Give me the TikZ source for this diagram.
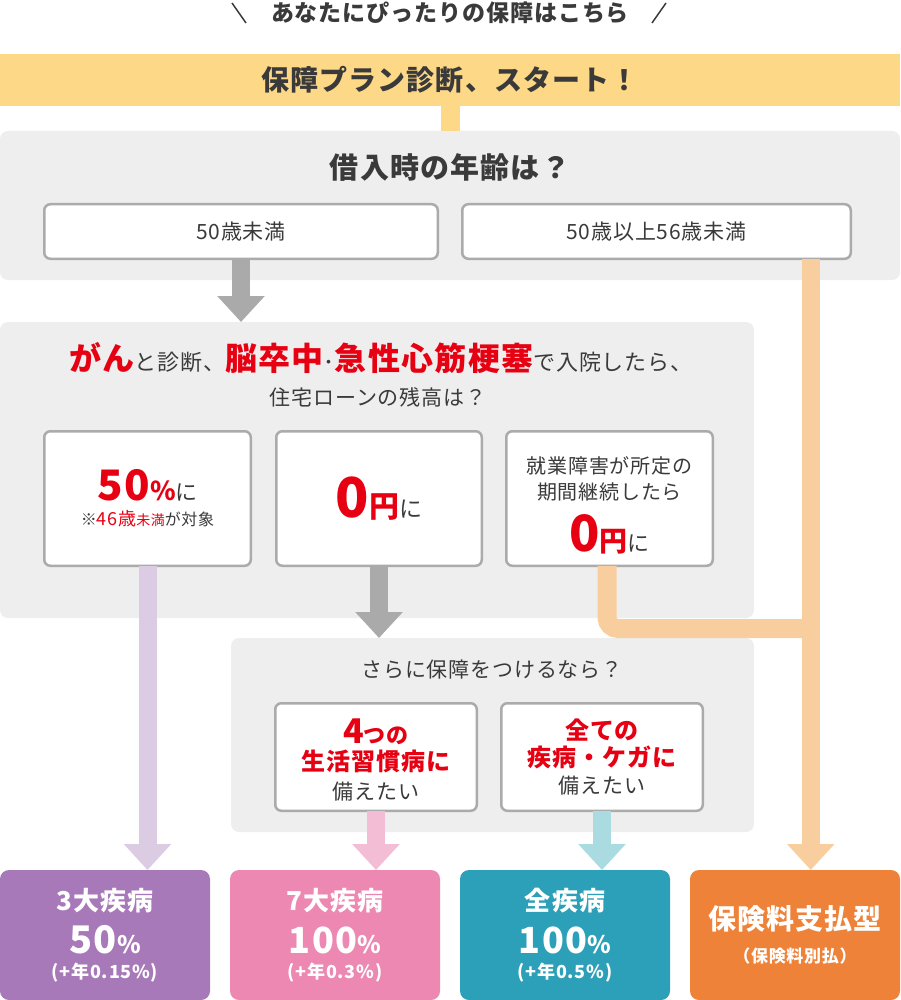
\documentclass[tikz,border=0pt]{standalone}
\usepackage{fontspec}
\setmainfont[LetterSpace=4]{Noto Sans CJK JP}
\usetikzlibrary{arrows.meta}

\definecolor{txt}{HTML}{3A3A3A}
\definecolor{accent}{HTML}{E60012}
\definecolor{panelgray}{HTML}{EEEEEE}
\definecolor{boxline}{HTML}{ABABAB}
\definecolor{arrowgray}{HTML}{AAAAAA}
\definecolor{yellowband}{HTML}{FDD886}
\definecolor{orangeline}{HTML}{F9CE9E}
\definecolor{lavender}{HTML}{DBCBE3}
\definecolor{pinkline}{HTML}{F4BDD6}
\definecolor{cyanline}{HTML}{A9DBE1}
\definecolor{purplebox}{HTML}{A879B9}
\definecolor{pinkbox}{HTML}{EC88B2}
\definecolor{tealbox}{HTML}{2CA0B8}
\definecolor{orangebox}{HTML}{EE8238}

\newcommand{\fz}[1]{\fontsize{#1pt}{#1pt}\selectfont}
\newcommand{\lsk}[1]{\fontsize{10pt}{#1pt}\selectfont}

\tikzset{
  panel/.style={fill=panelgray, rounded corners=8pt, inner sep=0pt, outer sep=0pt},
  choice/.style={draw=boxline, line width=2.5pt, fill=white, rounded corners=6pt,
    inner sep=0pt, outer sep=0pt, align=center, text=txt},
  result/.style={rounded corners=9pt, inner sep=0pt, outer sep=0pt,
    minimum width=210pt, minimum height=130pt, text=white, align=center},
  flow/.style={line width=18pt, -{Triangle[width=46pt,length=26pt]}},
  words/.style={inner sep=0pt, text=txt, align=center},
}

\begin{document}
\begin{tikzpicture}[x=1pt,y=-1pt]
  \useasboundingbox (0,0) rectangle (900,1000);

  % lead text
  \node[words, font=\fz{23}\bfseries] (lead) at (450,13) {あなたにぴったりの保障はこちら};
  \draw[txt, line width=1.5pt] (232,3) -- (246,23);
  \draw[txt, line width=1.5pt] (666,3) -- (652,23);

  \node[fill=yellowband, minimum width=900pt, minimum height=52pt, inner sep=0pt, outer sep=0pt,
    text=txt, font=\fz{28}\bfseries] (start) at (450,80) {保障プラン診断、スタート！};

  % panels
  \node[panel, minimum width=900pt, minimum height=149pt] (ask1) at (450,205.5) {};
  \node[panel, minimum width=754pt, minimum height=296pt] (ask2) at (377,470) {};
  \node[panel, minimum width=523pt, minimum height=194pt] (ask3) at (492.5,735) {};

  % age
  \node[words, font=\fz{29}\bfseries] (ask1title) at (450,167) {借入時の年齢は？};
  \node[choice, minimum width=393.5pt, minimum height=54.5pt, font=\fz{21}] (ageA) at (241,231.5) {50歳未満};
  \node[choice, minimum width=388.5pt, minimum height=54.5pt, font=\fz{21}] (ageB) at (656.5,231.5) {50歳以上56歳未満};

  % loan
  \node[words] (ask2title) at (381,358) {\textcolor{accent}{\fz{32}\bfseries がん}{\fz{22}と診断、}%
    \textcolor{accent}{\fz{32}\bfseries 脳卒中}{\fz{22}･}\textcolor{accent}{\fz{32}\bfseries 急性心筋梗塞}{\fz{22}で入院したら、}};
  \node[words, font=\fz{21}] (ask2sub) at (378,397) {住宅ローンの残高は？};

  \node[choice, minimum width=206.5pt, minimum height=134.5pt, font=\lsk{25}] (half) at (147.5,498.5)
    {\textcolor{accent}{\fz{42}\bfseries 50\fz{26}\%}{\fz{22}に}\\
     {\fz{16}※\textcolor{accent}{{\fz{18}46歳}{\fz{14}未満}}が対象}};
  \node[choice, minimum width=205.5pt, minimum height=134.5pt] (zero) at (379,498.5)
    {\textcolor{accent}{\fz{55}\bfseries 0\fz{30}円}{\fz{23}に}};
  \node[choice, minimum width=206.5pt, minimum height=134.5pt, font=\lsk{26}] (work) at (609.5,498.5)
    {\rule{0pt}{30pt}{\fz{20}就業障害が所定の}\\{\fz{20}期間継続したら}\\[12pt]
     \textcolor{accent}{\fz{50}\bfseries 0\fz{28}円}{\fz{22}に}};

  % extra cover
  \node[words, font=\fz{21}] (ask3title) at (492,670) {さらに保障をつけるなら？};
  \node[choice, minimum width=201.5pt, minimum height=107.5pt, font=\lsk{27}] (life) at (376,757)
    {\rule{0pt}{31pt}\textcolor{accent}{\bfseries{\fz{34}4}{\fz{22}つの}}\\
     \textcolor{accent}{\fz{24}\bfseries 生活習慣病に}\\[2pt]
     {\fz{21}備えたい}};
  \node[choice, minimum width=201.5pt, minimum height=107.5pt, font=\lsk{27}] (all) at (602,757)
    {\textcolor{accent}{\fz{24}\bfseries 全ての}\\
     \textcolor{accent}{\fz{24}\bfseries 疾病・ケガに}\\
     {\fz{21}備えたい}};

  % results
  \node[result, fill=purplebox, font=\lsk{43}\bfseries] (res1) at (105,935)
    {{\fz{26}3大疾病}\\{\fz{38}50\fz{24}\%}\\[-18pt]{\fz{18}(+年0.15\%)}};
  \node[result, fill=pinkbox, font=\lsk{43}\bfseries] (res2) at (335,935)
    {{\fz{26}7大疾病}\\{\fz{36}100\fz{24}\%}\\[-18pt]{\fz{18}(+年0.3\%)}};
  \node[result, fill=tealbox, font=\lsk{43}\bfseries] (res3) at (565,935)
    {{\fz{26}全疾病}\\{\fz{36}100\fz{24}\%}\\[-18pt]{\fz{18}(+年0.5\%)}};
  \node[result, fill=orangebox, font=\lsk{33}\bfseries] (res4) at (795,935)
    {{\fz{28}保険料支払型}\\{\fz{17}（保険料別払）}};

  % connectors
  \coordinate (drop) at ([xshift=-40pt]ageB.south east);
  \coordinate (join) at (812,628.5);
  \draw[yellowband, line width=19pt] (start.south) -- (ask1.north);
  \draw[flow, arrowgray] (ageA.south) -- (ageA.south |- ask2.north);
  \draw[orangeline, line width=19pt, rounded corners=11pt] ([xshift=-2.5pt]work.south) |- (join);
  \draw[flow, orangeline] (drop) -- (drop |- res4.north);
  \draw[flow, lavender] (half.south) -- (half.south |- res1.north);
  \draw[flow, arrowgray] (zero.south) -- (zero.south |- ask3.north);
  \draw[flow, pinkline] (life.south) -- (life.south |- res2.north);
  \draw[flow, cyanline] (all.south) -- (all.south |- res3.north);
\end{tikzpicture}
\end{document}
